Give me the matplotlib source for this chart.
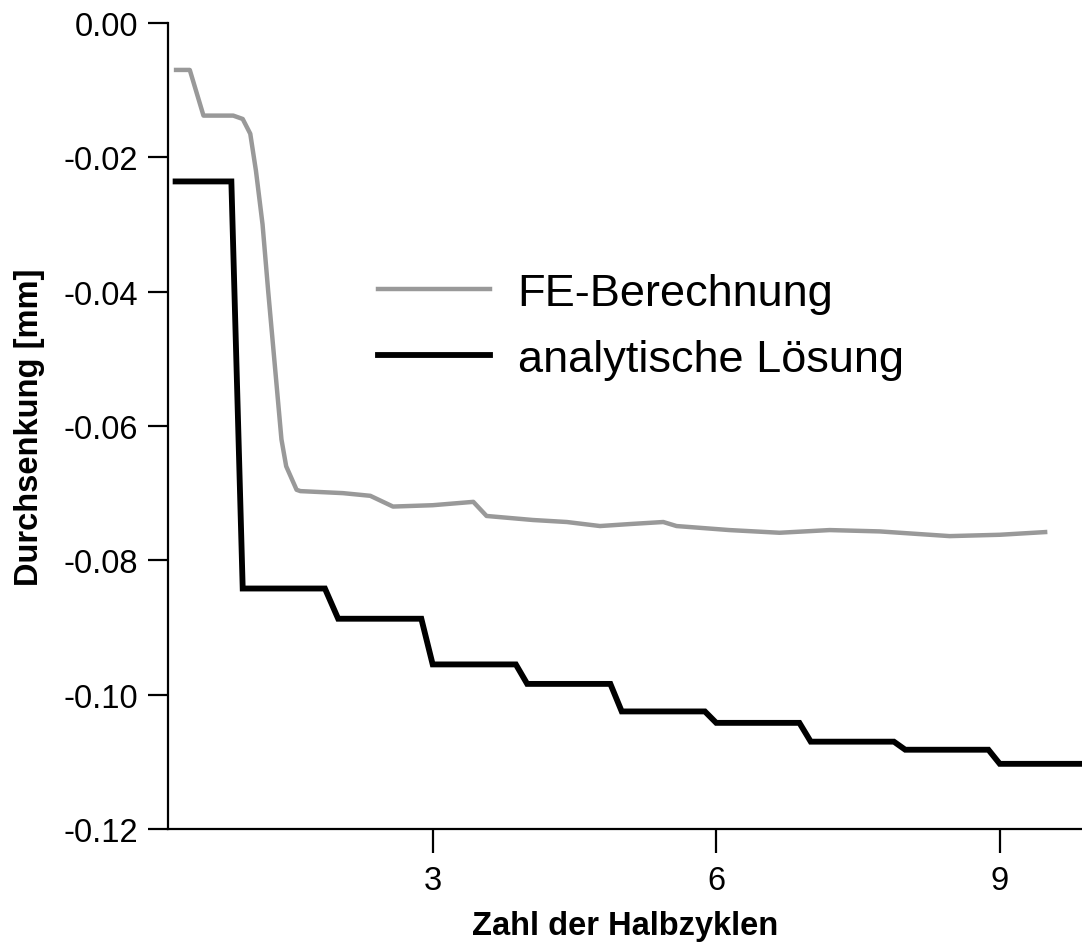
import matplotlib
matplotlib.use("Agg")
import matplotlib.pyplot as plt
import numpy as np

plt.rcParams['font.family'] = ['Liberation Sans', 'DejaVu Sans']

# FE-Berechnung (gray curve)
fe_x = [0.285, 0.43, 0.575, 0.89, 0.99, 1.07, 1.13, 1.20, 1.26, 1.33, 1.40, 1.45,
        1.56, 1.60, 2.05, 2.34, 2.58, 3.00, 3.43, 3.57, 4.06, 4.42, 4.77, 5.09,
        5.44, 5.58, 6.14, 6.67, 7.20, 7.73, 8.47, 9.00, 9.48]
fe_y = [-0.0070, -0.0070, -0.0138, -0.0138, -0.0143, -0.0165, -0.0220, -0.0300,
        -0.0400, -0.0510, -0.0620, -0.0660, -0.0695, -0.0697, -0.0700, -0.0704,
        -0.0720, -0.0718, -0.0713, -0.0734, -0.0740, -0.0743, -0.0749, -0.0746,
        -0.0743, -0.0749, -0.0755, -0.0759, -0.0755, -0.0757, -0.0764, -0.0762,
        -0.0758]

# analytische Loesung (black step curve)
an_start = 0.28
an_end = 9.87
an_levels = [-0.0236, -0.0842, -0.0887, -0.0955, -0.0984, -0.1025, -0.1042,
             -0.1070, -0.1082, -0.1103]
an_drop_start = [0.87, 1.86, 2.88, 3.88, 4.88, 5.88, 6.88, 7.88, 8.88]
an_drop_end = [0.99, 2.00, 3.00, 4.00, 5.00, 6.00, 7.00, 8.00, 9.00]

an_x = [an_start]
an_y = [an_levels[0]]
for i in range(len(an_drop_start)):
    an_x += [an_drop_start[i], an_drop_end[i]]
    an_y += [an_levels[i], an_levels[i + 1]]
an_x.append(an_end)
an_y.append(an_levels[-1])

xticks = [3, 6, 9]
yticks = [0.00, -0.02, -0.04, -0.06, -0.08, -0.10, -0.12]

fig = plt.figure(figsize=(10.82, 9.45), dpi=100)
ax = fig.add_axes([0.1553, 0.1217, 0.8447, 0.853])

ax.plot(fe_x, fe_y, color='#999999', lw=3.2, label='FE-Berechnung', solid_joinstyle='round')
ax.plot(an_x, an_y, color='black', lw=4.2, label='analytische Lösung', solid_joinstyle='miter')

ax.set_xlim(0.2, 9.87)
ax.set_ylim(-0.12, 0.0)
ax.set_xticks(xticks)
ax.set_xticklabels([str(t) for t in xticks])
ax.set_yticks(yticks)
ax.set_yticklabels([f"{t:.2f}" if t != 0 else "0.00" for t in yticks])

for s in ['top', 'right']:
    ax.spines[s].set_visible(False)
for s in ['left', 'bottom']:
    ax.spines[s].set_linewidth(1.6)

ax.tick_params(axis='y', direction='out', length=14.5, width=1.6, pad=7, labelsize=23.5)
ax.tick_params(axis='x', direction='out', length=17, width=1.6, pad=9, labelsize=23.5)

ax.set_xlabel('Zahl der Halbzyklen', fontsize=23.5, fontweight='bold', labelpad=10)
ax.set_ylabel('Durchsenkung [mm]', fontsize=23.5, fontweight='bold', labelpad=13)

leg = ax.legend(loc='upper left', bbox_to_anchor=(0.349, 0.71), bbox_transform=fig.transFigure,
                frameon=False, fontsize=32.5, handlelength=2.5, handletextpad=0.6,
                labelspacing=0.55, borderpad=0, borderaxespad=0)

fig.savefig('out.png', dpi=100)
